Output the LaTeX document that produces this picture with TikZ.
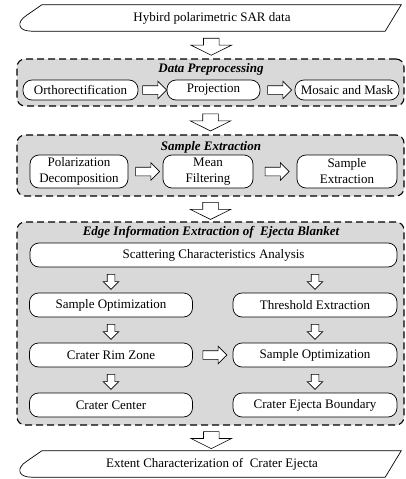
\documentclass[tikz,border=0pt]{standalone}
\usepackage{fontspec}
\setmainfont{Liberation Serif}
\usetikzlibrary{shapes.arrows,calc}

\tikzset{
  every node/.style={font=\fontsize{13}{16}\selectfont},
  procbox/.style={draw, rounded corners=9pt, fill=white, line width=0.7pt, inner sep=0pt, align=center},
  grpbox/.style={draw, dash pattern=on 7pt off 4pt, rounded corners=8pt, fill=black!15, line width=1.1pt},
  grptitle/.style={font=\fontsize{13}{16}\selectfont\bfseries\itshape},
  ioline/.style={draw, line width=0.7pt},
  bigarrow/.style={single arrow, draw, fill=white, line width=0.6pt, rotate=-90,
    inner xsep=0pt, inner ysep=7.5pt, single arrow head extend=12.5pt, single arrow tip angle=127, minimum height=17pt},
  harrow/.style={single arrow, draw, fill=white, line width=0.6pt,
    inner xsep=0pt, inner ysep=4pt, single arrow head extend=4.5pt, minimum height=24pt},
  varrow/.style={harrow, rotate=-90, minimum height=15pt, inner ysep=3.5pt, single arrow head extend=4pt},
}

% data shape round a text node
\newcommand\ioshape[1]{%
  \draw[ioline] ([xshift=22pt]#1.north west) -- ([xshift=-3pt]#1.north east)
    -- ([xshift=-19pt]#1.south east) -- ([xshift=12pt]#1.south west)
    .. controls ([xshift=-2pt]#1.south west) and ([shift={(-4pt,9pt)}]#1.south west)
    .. ([shift={(7pt,16pt)}]#1.south west) -- cycle;}

\begin{document}
\begin{tikzpicture}[x=1pt,y=-1pt]
  \useasboundingbox (0,0) rectangle (406,479);

  % input
  \node[minimum width=384pt, minimum height=26pt, inner sep=0pt] (src) at (212,18) {Hybird polarimetric SAR data};
  \ioshape{src}

  % data preprocessing
  \node[grpbox, minimum width=387pt, minimum height=47pt] (prep) at (210.5,82.5) {};
  \node[grptitle] (prepT) at (211,69) {Data Preprocessing};
  \node[procbox, minimum width=115pt, minimum height=20pt] (ortho) at (80.5,90) {Orthorectification};
  \node[procbox, minimum width=93pt, minimum height=20pt] (proj) at (213.5,90) {Projection};
  \node[procbox, minimum width=104pt, minimum height=20pt] (mosaic) at (347,90) {Mosaic and Mask};
  \node[harrow] (a11) at ($(ortho.east)!0.5!(proj.west)$) {};
  \node[harrow] (a12) at ($(proj.east)!0.5!(mosaic.west)$) {};

  % sample extraction
  \node[grpbox, minimum width=387pt, minimum height=61pt] (samp) at (210.5,165.5) {};
  \node[grptitle] (sampT) at (211,147) {Sample Extraction};
  \node[procbox, minimum width=98pt, minimum height=33pt] (pol) at (79,171.5) {Polarization\\Decomposition};
  \node[procbox, minimum width=90pt, minimum height=33pt] (mean) at (208,171.5) {Mean\\Filtering};
  \node[procbox, minimum width=100pt, minimum height=33pt] (sampx) at (347,171.5) {Sample\\Extraction};
  \node[harrow] (a21) at ($(pol.east)!0.5!(mean.west)$) {};
  \node[harrow] (a22) at ($(mean.east)!0.5!(sampx.west)$) {};

  % edge information extraction
  \node[grpbox, minimum width=387pt, minimum height=203pt] (edge) at (210.5,323.5) {};
  \node[grptitle] (edgeT) at (211,232) {Edge Information Extraction of~ Ejecta Blanket};
  \node[procbox, minimum width=367pt, minimum height=24pt] (scat) at (213.5,255) {Scattering Characteristics Analysis};
  \node[procbox, minimum width=163pt, minimum height=24pt] (opt1) at (111,305) {Sample Optimization};
  \node[procbox, minimum width=164pt, minimum height=24pt] (thr) at (315,305) {Threshold Extraction};
  \node[procbox, minimum width=163pt, minimum height=24pt] (rim) at (111,355) {Crater Rim Zone};
  \node[procbox, minimum width=164pt, minimum height=24pt] (opt2) at (315,355) {Sample Optimization};
  \node[procbox, minimum width=163pt, minimum height=24pt] (cen) at (111,405) {Crater Center};
  \node[procbox, minimum width=164pt, minimum height=24pt] (bnd) at (315,405) {Crater Ejecta Boundary};
  \node[varrow] (a31) at ($(scat.south -| opt1.north)!0.5!(opt1.north)$) {};
  \node[varrow] (a32) at ($(scat.south -| thr.north)!0.5!(thr.north)$) {};
  \node[varrow] (a33) at ($(opt1.south)!0.5!(rim.north)$) {};
  \node[varrow] (a34) at ($(thr.south)!0.5!(opt2.north)$) {};
  \node[varrow] (a35) at ($(rim.south)!0.5!(cen.north)$) {};
  \node[varrow] (a36) at ($(opt2.south)!0.5!(bnd.north)$) {};
  \node[harrow] (a37) at ($(rim.east)!0.5!(opt2.west)$) {};

  % output
  \node[minimum width=384pt, minimum height=26pt, inner sep=0pt] (out) at (212,464) {Extent Characterization of~ Crater Ejecta};
  \ioshape{out}

  % main flow
  \node[bigarrow] (b1) at ($(src.south)!0.5!(prep.north)$) {};
  \node[bigarrow] (b2) at ($(prep.south)!0.5!(samp.north)$) {};
  \node[bigarrow] (b3) at ($(samp.south)!0.5!(edge.north)$) {};
  \node[bigarrow] (b4) at ($(edge.south)!0.5!(out.north)$) {};
\end{tikzpicture}
\end{document}
